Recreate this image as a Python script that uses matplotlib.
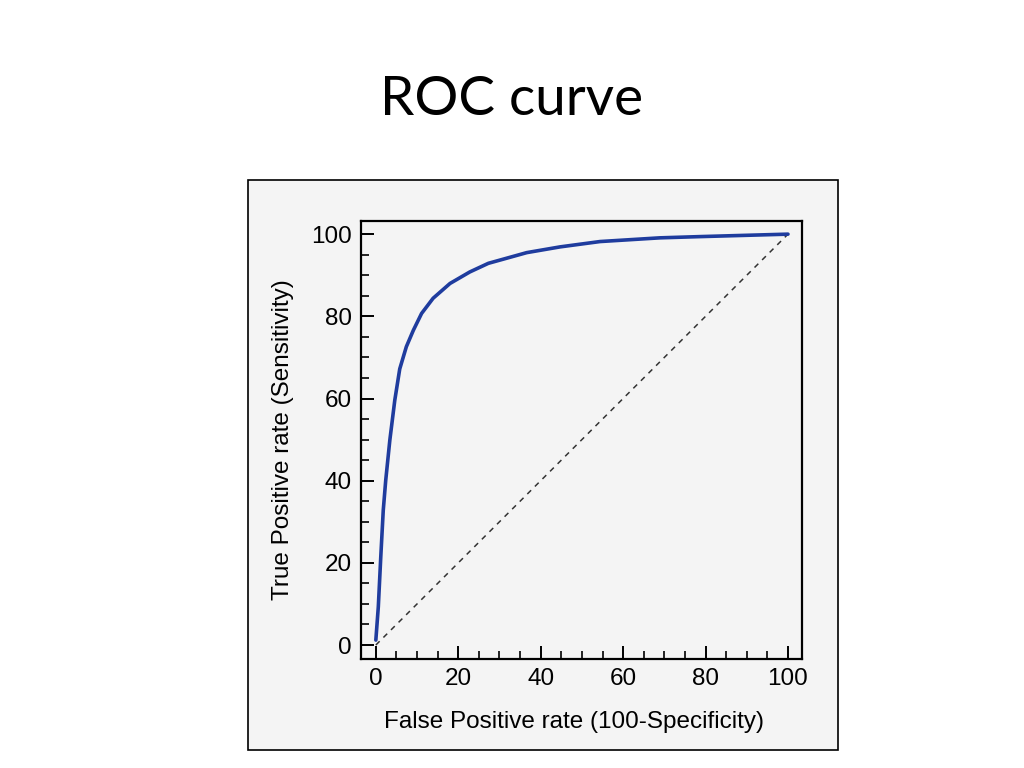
import matplotlib
matplotlib.use('Agg')
import matplotlib.pyplot as plt
from matplotlib.patches import Rectangle
from matplotlib.ticker import MultipleLocator

# ROC curve points (false positive rate, true positive rate)
fpr = [0, 0.6, 1.2, 1.8, 2.4, 3.4, 4.6, 5.8, 7.4, 9.1, 11.1, 13.9, 18, 22.8,
       27.3, 36.6, 44.7, 54.4, 68.9, 78.6, 100]
tpr = [1.2, 9.3, 21.5, 32.8, 40.1, 49.9, 59.6, 67.2, 72.6, 76.6, 80.7, 84.4, 88,
       90.8, 92.9, 95.5, 96.9, 98.2, 99.1, 99.4, 100]

# reference diagonal
diag_x = [0, 100]
diag_y = [0, 100]

x_ticks = [0, 20, 40, 60, 80, 100]
y_ticks = [0, 20, 40, 60, 80, 100]

plt.rcParams['font.family'] = ['Liberation Sans', 'DejaVu Sans']

fig = plt.figure(figsize=(10.24, 7.68), dpi=100)
fig.patch.set_facecolor('white')

# slide title
fig.text(0.5, 1 - 115 / 768, 'ROC curve', ha='center', va='baseline',
         fontsize=39.5, family=['Lato', 'DejaVu Sans'], color='black')

# grey picture frame behind the plot
frame = Rectangle((248 / 1024, 1 - 750 / 768), 590 / 1024, 570 / 768,
                  transform=fig.transFigure, facecolor='#f4f4f4',
                  edgecolor='black', linewidth=1.2, zorder=0)
fig.patches.append(frame)

ax = fig.add_axes([361 / 1024, 1 - 659 / 768, 441 / 1024, 438 / 768])
ax.set_zorder(2)
ax.set_facecolor('#f4f4f4')

ax.plot(diag_x, diag_y, color='#333333', linewidth=1.1, dashes=(3.5, 3.5))
ax.plot(fpr, tpr, color='#1f3c9e', linewidth=2.6, solid_capstyle='round',
        solid_joinstyle='round')

ax.set_xlim(-3.6, 103.4)
ax.set_ylim(-3.4, 103.2)
ax.set_xticks(x_ticks)
ax.set_yticks(y_ticks)
ax.xaxis.set_minor_locator(MultipleLocator(5))
ax.yaxis.set_minor_locator(MultipleLocator(5))

ax.tick_params(which='major', direction='in', length=9.5, width=1.4,
               labelsize=17.5, pad=6.5, colors='black')
ax.tick_params(which='minor', direction='in', length=6, width=1.2)
for sp in ax.spines.values():
    sp.set_linewidth(1.6)

ax.set_xlabel('False Positive rate (100-Specificity)', fontsize=17.5)
ax.set_ylabel('True Positive rate (Sensitivity)', fontsize=17.5)
ax.xaxis.set_label_coords(0.483, -0.118)
ax.yaxis.set_label_coords(-0.152, 0.5)

fig.savefig('out.png', dpi=100)
